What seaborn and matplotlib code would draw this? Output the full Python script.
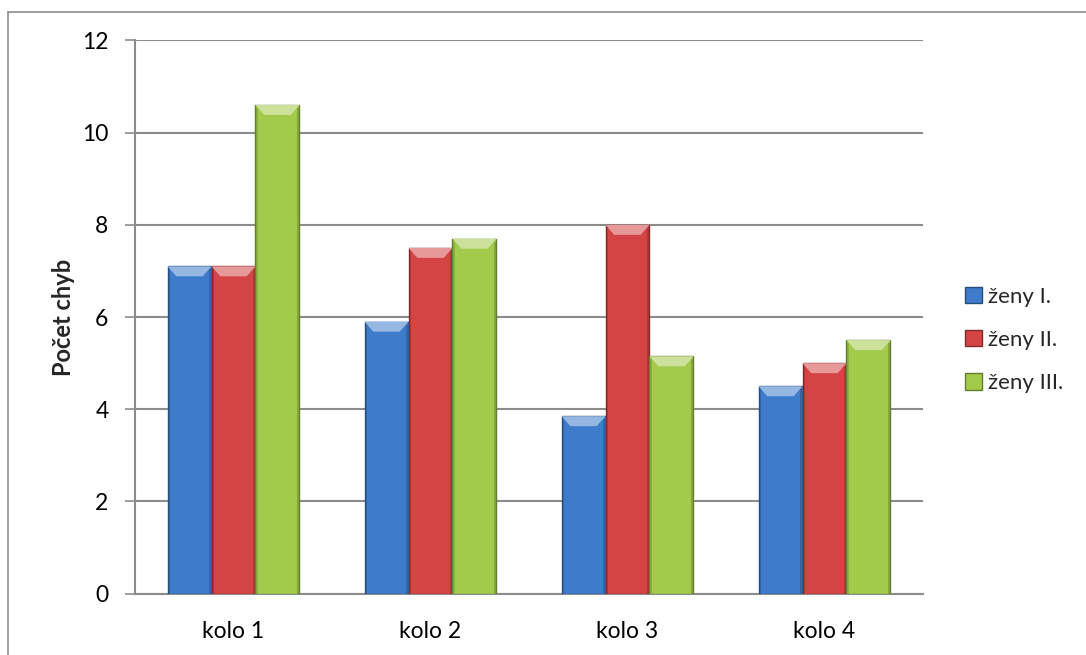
import matplotlib
matplotlib.use("Agg")
import matplotlib.pyplot as plt
import matplotlib.colors as mcolors
from matplotlib.patches import Polygon, Rectangle
from matplotlib.lines import Line2D
import seaborn as sns
import pandas as pd

# Values for each round and group
categories = ["kolo 1", "kolo 2", "kolo 3", "kolo 4"]
series_names = ["ženy I.", "ženy II.", "ženy III."]
zeny_1 = [7.1, 5.9, 3.85, 4.5]
zeny_2 = [7.1, 7.5, 8.0, 5.0]
zeny_3 = [10.6, 7.7, 5.15, 5.5]
y_ticks = [0, 2, 4, 6, 8, 10, 12]

colors = ["#3E7CCB", "#D44444", "#A3CB4B"]

df = pd.DataFrame({
    "kolo": categories * 3,
    "skupina": [series_names[0]] * 4 + [series_names[1]] * 4 + [series_names[2]] * 4,
    "chyby": zeny_1 + zeny_2 + zeny_3,
})

sns.set_theme(style="white")
plt.rcParams["font.family"] = ["Lato", "DejaVu Sans"]

fig = plt.figure(figsize=(10.86, 6.55), dpi=100)
ax = fig.add_axes([135 / 1086, 1 - 593.7 / 655, 788 / 1086, (593.7 - 40.4) / 655])

sns.barplot(data=df, x="kolo", y="chyby", hue="skupina", palette=colors,
            width=0.67, gap=0, ax=ax, legend=False, zorder=3,
            saturation=1)

ax.set_ylim(0, 12)
ax.set_xlim(-0.5, 3.5)
ax.set_yticks(y_ticks)
ax.set_yticklabels([str(t) for t in y_ticks], fontsize=16.5, color="#000000")
ax.tick_params(axis="y", length=7, width=1.2, color="#8C8C8C", pad=12, left=True)
ax.tick_params(axis="x", length=0, pad=20, labelsize=16.5, labelcolor="#000000")
ax.grid(axis="y", color="#8C8C8C", linewidth=1.5, zorder=0)
ax.set_axisbelow(True)
for side in ["top", "right"]:
    ax.spines[side].set_visible(False)
for side in ["left", "bottom"]:
    ax.spines[side].set_color("#8C8C8C")
    ax.spines[side].set_linewidth(1.5)
ax.set_xlabel("")
ax.set_ylabel("Počet chyb", fontsize=17, fontweight="bold", labelpad=5)

# Bevelled look for every bar, derived from the drawn patches
fig.canvas.draw()
px_per_unit = ax.transData.transform((0, 1))[1] - ax.transData.transform((0, 0))[1]
bevel_h = 10 / px_per_unit
for patch in list(ax.patches):
    x0 = patch.get_x()
    w = patch.get_width()
    h = patch.get_height()
    base = mcolors.to_rgb(patch.get_facecolor())
    dark = tuple(c * 0.62 for c in base)
    light = tuple(min(1, c + (1 - c) * 0.45) for c in base)
    patch.set_edgecolor(dark)
    patch.set_linewidth(1.0)
    inset = w * 0.2
    top = Polygon([(x0, h), (x0 + w, h), (x0 + w - inset, h - bevel_h),
                   (x0 + inset, h - bevel_h)], closed=True,
                  facecolor=light, edgecolor="none", zorder=4)
    ax.add_patch(top)
    side_w = w * 0.06
    ax.add_patch(Rectangle((x0, 0), side_w, h - bevel_h * 0.3,
                           facecolor=dark, alpha=0.35, edgecolor="none", zorder=4))
    ax.add_patch(Rectangle((x0 + w - side_w, 0), side_w, h - bevel_h * 0.3,
                           facecolor=dark, alpha=0.45, edgecolor="none", zorder=4))

# Legend
handles = [Rectangle((0, 0), 1, 1, facecolor=c,
                     edgecolor=tuple(v * 0.62 for v in mcolors.to_rgb(c)))
           for c in colors]
fig.legend(handles, series_names, loc="center left",
           bbox_to_anchor=(954 / 1086, 1 - 340 / 655),
           frameon=False, fontsize=16, handlelength=0.75, handleheight=0.75,
           handletextpad=0.3, labelspacing=1.05, borderpad=0)

# Chart frame (top and left edges)
fig.add_artist(Line2D([8 / 1086, 8 / 1086], [0, 1 - 11.7 / 655],
                      transform=fig.transFigure, color="#8C8C8C", linewidth=1.2))
fig.add_artist(Line2D([8 / 1086, 1], [1 - 11.7 / 655, 1 - 11.7 / 655],
                      transform=fig.transFigure, color="#8C8C8C", linewidth=1.2))

fig.savefig("out.png", dpi=100)
